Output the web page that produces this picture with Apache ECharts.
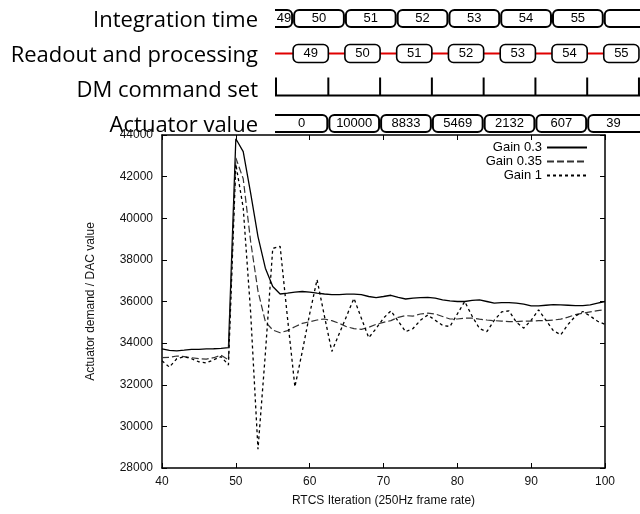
<!DOCTYPE html>
<html>
<head>
<meta charset="utf-8">
<script src="https://cdn.jsdelivr.net/npm/echarts@6/dist/echarts.min.js"></script>
<style>
html,body{margin:0;padding:0;background:#fff;}
#chart{width:640px;height:514px;}
</style>
</head>
<body>
<div id="chart"></div>
<script>
// ---- Data ----
const iterations = [40,41,42,43,44,45,46,47,48,49,50,51,52,53,54,55,56,57,58,59,60,61,62,63,64,65,66,67,68,69,70,71,72,73,74,75,76,77,78,79,80,81,82,83,84,85,86,87,88,89,90,91,92,93,94,95,96,97,98,99,100];
const gain03 = [33720,33650,33630,33660,33700,33700,33720,33730,33750,33780,
  43820,43200,41220,39120,37600,36720,36360,36400,36450,36480,
  36450,36400,36360,36330,36330,36350,36350,36330,36240,36190,
  36240,36300,36200,36120,36160,36190,36200,36160,36080,36030,
  36000,36000,36050,36080,36000,35920,35950,35950,35920,35870,
  35790,35790,35820,35850,35840,35820,35800,35800,35840,35920,
  36000];
const gain035 = [33300,33320,33380,33350,33300,33250,33230,33300,33420,33200,
  42900,41900,38900,36500,35030,34630,34500,34600,34790,34950,
  35030,35110,35160,35080,34950,34790,34700,34660,34760,34900,
  35000,35080,35240,35320,35300,35400,35440,35400,35280,35160,
  35160,35200,35200,35150,35110,35080,35060,35030,35030,35060,
  35060,35080,35080,35110,35150,35250,35370,35440,35500,35560,
  35600];
const gain1 = [33150,32850,33250,33350,33250,33100,33050,33200,33350,32950,
  42600,40500,35500,28900,33500,38550,38650,35200,31900,33600,
  35400,37050,35300,33600,34450,35300,36150,35200,34260,34700,
  35200,35550,35050,34550,34700,35100,35350,35100,34850,34800,
  35400,36000,35300,34700,34550,35100,35500,35550,35000,34720,
  35100,35600,35100,34600,34400,34900,35300,35520,35300,35050,
  34900];
const seriesNames = ['Gain 0.3','Gain 0.35','Gain 1'];
const xTicks = [40,50,60,70,80,90,100];
const yTicks = [28000,30000,32000,34000,36000,38000,40000,42000,44000];

// timing diagram content
const rowNames = ['Integration time','Readout and processing','DM command set','Actuator value'];
const integrationFrames = [49,50,51,52,53,54,55,''];
const readoutFrames = [49,50,51,52,53,54,55];
const actuatorValues = [0,10000,8833,5469,2132,607,39];

// ---- Timing diagram items (in frame-period units) ----
const T0 = -0.35, T1 = 6.7, RD = 0.68;
const timing = [];
integrationFrames.forEach((f,i)=>{
  const s = i===0 ? -1.2 : i-1, e = i===integrationFrames.length-1 ? 7.5 : i;
  timing.push({v:[s,e,0], kind:'bus', label:String(f), lx:(Math.max(s,T0)+Math.min(e,T1))/2});
});
timing.push({v:[T0,readoutFrames.length-1,1], kind:'wire'});
readoutFrames.forEach((f,i)=>{
  timing.push({v:[i,i+RD,1], kind:'box', label:String(f)});
});
timing.push({v:[T0,7.5,2], kind:'dmbase'});
readoutFrames.forEach((f,i)=>{
  timing.push({v:[i+RD,i+RD,2], kind:'dm'});
});
actuatorValues.forEach((a,i)=>{
  const s = i===0 ? -1.2 : i-1+RD, e = i===actuatorValues.length-1 ? 7.5 : i+RD;
  timing.push({v:[s,e,3], kind:'bus', label:String(a), lx:(Math.max(s,T0)+Math.min(e,T1))/2});
});

function renderTiming(params, api){
  const it = timing[params.dataIndex];
  const row = it.v[2];
  const c0 = api.coord([it.v[0], row]);
  const c1 = api.coord([it.v[1], row]);
  const cy = c0[1];
  const boxFont = '13px "Liberation Sans Narrow", "Liberation Sans", sans-serif';
  if (it.kind === 'bus') {
    const cl = api.coord([it.lx,row]);
    return {type:'group', children:[
      {type:'rect', shape:{x:c0[0]+1, y:cy-8.5, width:c1[0]-c0[0]-2, height:17, r:5},
       style:{fill:'#fff', stroke:'#000', lineWidth:2}},
      {type:'text', x:cl[0], y:cy, style:{text:it.label, font:boxFont, fill:'#000', align:'center', verticalAlign:'middle'}}
    ]};
  }
  if (it.kind === 'box') {
    return {type:'group', children:[
      {type:'rect', shape:{x:c0[0], y:cy-9, width:c1[0]-c0[0], height:18, r:5},
       style:{fill:'#fff', stroke:'#000', lineWidth:1.6}},
      {type:'text', x:(c0[0]+c1[0])/2, y:cy, style:{text:it.label, font:boxFont, fill:'#000', align:'center', verticalAlign:'middle'}}
    ]};
  }
  if (it.kind === 'wire') {
    return {type:'line', shape:{x1:c0[0], y1:cy, x2:c1[0], y2:cy}, style:{stroke:'#e00000', lineWidth:2}};
  }
  if (it.kind === 'dmbase') {
    return {type:'polyline', shape:{points:[[c0[0]+1,cy-11],[c0[0]+1,cy+7],[c1[0],cy+7]]}, style:{stroke:'#000', lineWidth:2, fill:null}};
  }
  if (it.kind === 'dm') {
    return {type:'line', shape:{x1:c0[0], y1:cy-11, x2:c0[0], y2:cy+7}, style:{stroke:'#000', lineWidth:2}};
  }
}

const chart = echarts.init(document.getElementById('chart'), null, {renderer:'canvas'});
const tickStyle = {show:true, inside:true, length:5, lineStyle:{color:'#000', width:1}};
const lineAxis = {show:true, onZero:false, lineStyle:{color:'#000', width:1.5}};
const labelFont = {color:'#111', fontSize:12, fontFamily:'"Liberation Sans", Arial, sans-serif'};
const rowFont = {color:'#000', fontSize:22, fontFamily:'"Open Sans", Lato, sans-serif'};

chart.setOption({
  animation:false,
  backgroundColor:'#fff',
  grid:[
    {left:275, right:0, top:1, height:140},
    {left:162, right:35, top:135, bottom:46}
  ],
  xAxis:[
    {gridIndex:0, type:'value', min:T0, max:T1, show:false},
    {gridIndex:1, type:'value', min:40, max:100, interval:10, position:'bottom',
     axisLine:lineAxis, axisTick:tickStyle, splitLine:{show:false},
     axisLabel:Object.assign({margin:8, formatter:v=>String(v)}, labelFont),
     name:'RTCS Iteration (250Hz frame rate)', nameLocation:'middle', nameGap:27,
     nameTextStyle:Object.assign({}, labelFont)},
    {gridIndex:1, type:'value', min:40, max:100, interval:10, position:'top',
     axisLine:lineAxis, axisTick:tickStyle, splitLine:{show:false}, axisLabel:{show:false}}
  ],
  yAxis:[
    {gridIndex:0, type:'category', data:rowNames, inverse:true,
     axisLine:{show:false}, axisTick:{show:false}, splitLine:{show:false},
     axisLabel:Object.assign({margin:17,
       formatter:(v,idx)=> idx===3 ? '{d|'+v+'}' : '{n|'+v+'}',
       rich:{
         n:Object.assign({padding:[5,0,0,0]}, rowFont),
         d:Object.assign({padding:[5,0,0,0]}, rowFont)
       }}, rowFont)},
    {gridIndex:1, type:'value', min:28000, max:44000, interval:2000,
     axisLine:lineAxis, axisTick:tickStyle, splitLine:{show:false},
     axisLabel:Object.assign({margin:9, formatter:v=>String(v)}, labelFont),
     name:'Actuator demand / DAC value', nameLocation:'middle', nameGap:65, nameRotate:90,
     nameTextStyle:Object.assign({}, labelFont)},
    {gridIndex:1, type:'value', min:28000, max:44000, interval:2000, position:'right',
     axisLine:lineAxis, axisTick:tickStyle, splitLine:{show:false}, axisLabel:{show:false}}
  ],
  legend:{
    data:seriesNames, orient:'vertical', right:52, top:141, padding:0,
    itemWidth:40, itemHeight:10, itemGap:1, align:'right',
    itemStyle:{opacity:0},
    textStyle:{color:'#000', fontSize:13, fontFamily:'"Liberation Sans", Arial, sans-serif'}
  },
  series:[
    {type:'custom', xAxisIndex:0, yAxisIndex:0, renderItem:renderTiming, clip:true,
     data:timing.map(t=>t.v), encode:{x:[0,1], y:2}, silent:true},
    {name:seriesNames[0], type:'line', xAxisIndex:1, yAxisIndex:1, symbol:'none',
     data:iterations.map((x,i)=>[x,gain03[i]]), lineStyle:{color:'#000', width:1.3, type:'solid'}, itemStyle:{color:'#000'}},
    {name:seriesNames[1], type:'line', xAxisIndex:1, yAxisIndex:1, symbol:'none',
     data:iterations.map((x,i)=>[x,gain035[i]]), lineStyle:{color:'#333', width:1.2, type:[7,3]}, itemStyle:{color:'#555'}},
    {name:seriesNames[2], type:'line', xAxisIndex:1, yAxisIndex:1, symbol:'none',
     data:iterations.map((x,i)=>[x,gain1[i]]), lineStyle:{color:'#000', width:1.3, type:[3,3]}, itemStyle:{color:'#000'}}
  ]
});
</script>
</body>
</html>
